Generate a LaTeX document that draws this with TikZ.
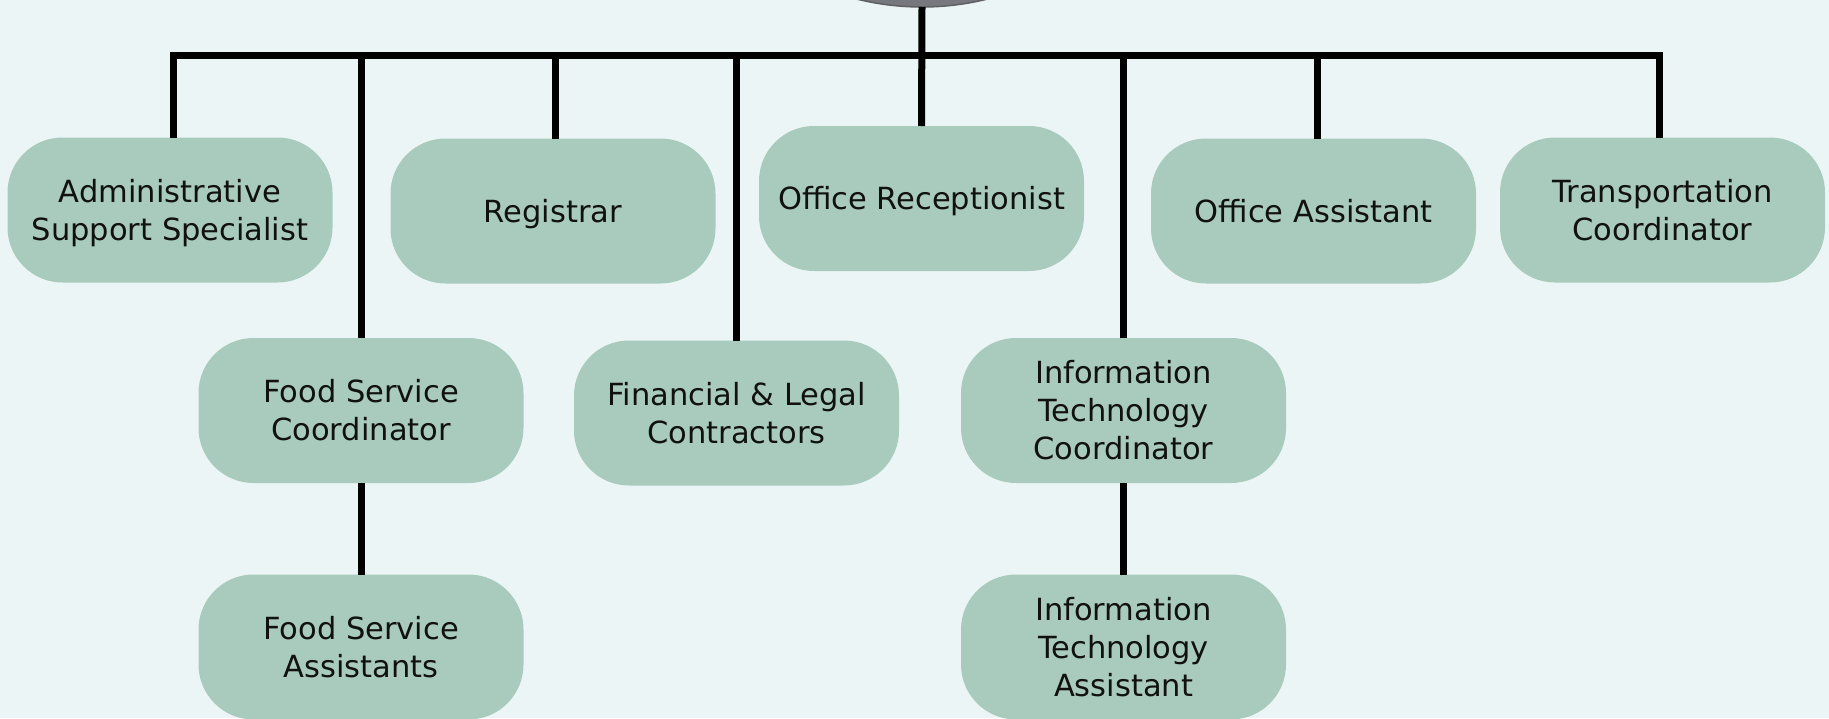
\documentclass[tikz,border=0pt]{standalone}
\usepackage{fontspec}
\setmainfont{DejaVu Sans}
\definecolor{bgc}{HTML}{ECF5F5}
\definecolor{boxc}{HTML}{A9CBBD}
\definecolor{headc}{HTML}{77787D}
\definecolor{txtc}{HTML}{111111}
\newcommand\topstrut{\rule{0pt}{30.5pt}}
\newcommand\botstrut{\rule[-8.3pt]{0pt}{8.3pt}}
\tikzset{
  rolebox/.style={fill=boxc, rounded corners=55pt, minimum width=325pt, minimum height=145pt,
    inner sep=0pt, outer sep=0pt, align=center, text=txtc,
    font=\fontsize{30.5}{38}\selectfont},
  link/.style={line width=7pt, draw=black, line join=miter},
}
\begin{document}
\begin{tikzpicture}[x=1pt,y=-1pt]
\fill[bgc] (0,0) rectangle (1829,718);
\useasboundingbox (0,0) rectangle (1829,718);
\begin{scope}
\clip (0,0) rectangle (1829,718);
\node[circle, fill=headc, draw=headc!80!black, line width=1.5pt, minimum size=540pt, inner sep=0pt, outer sep=0pt] (head) at (922,-263) {};

\node[rolebox] (admin) at (170,210) {\topstrut Administrative\\Support Specialist\botstrut};
\node[rolebox] (reg) at (553,211) {\topstrut Registrar\botstrut};
\node[rolebox] (rec) at (921.5,198.5) {\topstrut Office Receptionist\botstrut};
\node[rolebox] (oa) at (1313.5,211) {\topstrut Office Assistant\botstrut};
\node[rolebox] (tc) at (1662.5,210) {\topstrut Transportation\\Coordinator\botstrut};
\node[rolebox] (fsc) at (361,410.5) {\topstrut Food Service\\Coordinator\botstrut};
\node[rolebox] (fsa) at (361,647) {\topstrut Food Service\\Assistants\botstrut};
\node[rolebox] (flc) at (736.5,413) {\topstrut Financial \& Legal\\Contractors\botstrut};
\node[rolebox] (itc) at (1123.5,410.5) {\topstrut Information\\Technology\\Coordinator\botstrut};
\node[rolebox] (ita) at (1123.5,647) {\topstrut Information\\Technology\\Assistant\botstrut};

\coordinate (bus) at (922,55);

\draw[link] (head.south) -- (rec.north);
\draw[link] ([xshift=3.5pt]admin.north) |- (bus);
\draw[link] ([xshift=-3.5pt]tc.north) |- (bus);
\draw[link] ([xshift=2pt]reg.north) -- ([xshift=2pt]reg.north |- bus);
\draw[link] ([xshift=3.5pt]oa.north) -- ([xshift=3.5pt]oa.north |- bus);
\draw[link] (fsc.north) -- (fsc.north |- bus);
\draw[link] (flc.north) -- (flc.north |- bus);
\draw[link] (itc.north) -- (itc.north |- bus);
\draw[link] (fsc.south) -- (fsa.north);
\draw[link] (itc.south) -- (ita.north);
\end{scope}
\end{tikzpicture}
\end{document}
